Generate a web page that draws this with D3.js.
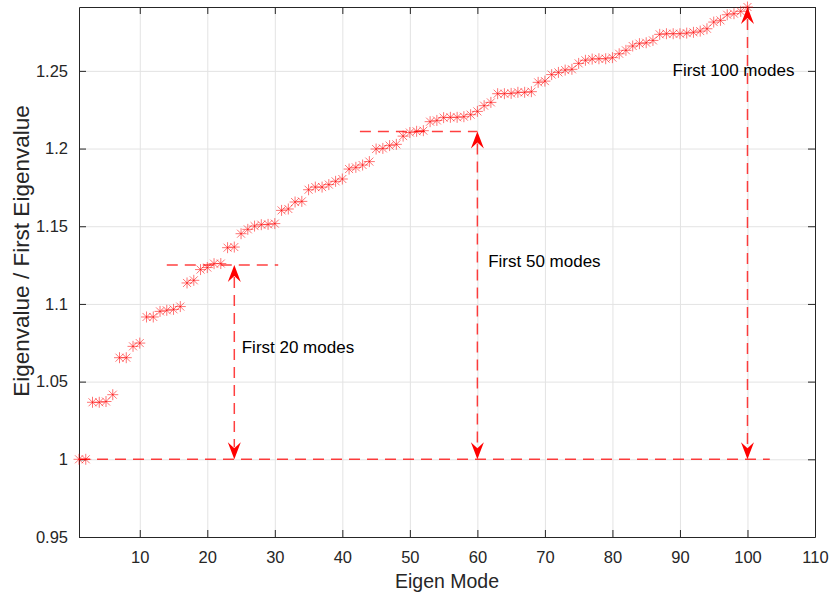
<!DOCTYPE html>
<html lang="en">
  <head>
    <meta charset="utf-8" />
    <title>Eigenvalue ratio</title>
    <script type="text/javascript" src="https://cdn.jsdelivr.net/npm/d3@7"></script>
    <style type="text/css">
      body {
        margin: 0;
        background: #ffffff;
      }
      text {
        font-family: "Liberation Sans", Arial, sans-serif;
      }
    </style>
  </head>
  <body>
    <script type="text/javascript">
      //Width and height
      var w = 832;
      var h = 599;
      var margin = { top: 7, right: 17, bottom: 62, left: 79 };

      // eigen mode numbers 1..100
      var modes = [
        1, 2, 3, 4, 5, 6, 7, 8, 9, 10, 11, 12, 13, 14, 15, 16, 17, 18, 19, 20,
        21, 22, 23, 24, 25, 26, 27, 28, 29, 30, 31, 32, 33, 34, 35, 36, 37, 38,
        39, 40, 41, 42, 43, 44, 45, 46, 47, 48, 49, 50, 51, 52, 53, 54, 55, 56,
        57, 58, 59, 60, 61, 62, 63, 64, 65, 66, 67, 68, 69, 70, 71, 72, 73, 74,
        75, 76, 77, 78, 79, 80, 81, 82, 83, 84, 85, 86, 87, 88, 89, 90, 91, 92,
        93, 94, 95, 96, 97, 98, 99, 100,
      ];

      // eigenvalue / first eigenvalue
      var ratios = [
        1.0, 1.0, 1.0367, 1.0367, 1.0372, 1.0416, 1.0654, 1.0654, 1.0727,
        1.0748, 1.0916, 1.0916, 1.0952, 1.0959, 1.0965, 1.0983, 1.1135,
        1.1152, 1.1221, 1.1234, 1.1259, 1.126, 1.1362, 1.1366, 1.1452, 1.148,
        1.1501, 1.151, 1.1512, 1.1517, 1.1602, 1.1611, 1.1656, 1.166, 1.1735,
        1.1752, 1.1752, 1.1768, 1.1789, 1.1804, 1.1868, 1.1879, 1.1894,
        1.1916, 1.1997, 1.2001, 1.2019, 1.2027, 1.208, 1.2103, 1.2111, 1.2115,
        1.2173, 1.2181, 1.2199, 1.2201, 1.2201, 1.2205, 1.2218, 1.2239,
        1.2276, 1.2297, 1.2353, 1.2353, 1.2355, 1.2362, 1.2362, 1.2366,
        1.2426, 1.2434, 1.2476, 1.249, 1.2505, 1.251, 1.2548, 1.2568, 1.2576,
        1.2578, 1.2578, 1.2585, 1.261, 1.2632, 1.266, 1.2675, 1.2681, 1.2696,
        1.2735, 1.2739, 1.2739, 1.2739, 1.2743, 1.2748, 1.2756, 1.2771,
        1.2814, 1.2825, 1.2861, 1.2868, 1.2883, 1.2911,
      ];

      var xTicks = [10, 20, 30, 40, 50, 60, 70, 80, 90, 100, 110];
      var yTicks = [0.95, 1, 1.05, 1.1, 1.15, 1.2, 1.25];

      // annotations: vertical double arrows and the dashed reference lines
      var arrowModes = [24, 60, 100];
      var arrowTops = [1.125, 1.211, 1.2911];
      var arrowLabels = ["First 20 modes", "First 50 modes", "First 100 modes"];
      var labelX = [25.1, 61.6, 88.9];
      var labelY = [1.0685, 1.1236, 1.2465];
      var levelLines = [
        { x1: 1, x2: 103.3, y: 1 },
        { x1: 14, x2: 30.5, y: 1.125 },
        { x1: 42.6, x2: 60, y: 1.211 },
      ];

      var xScale = d3
        .scaleLinear()
        .domain([1, 110])
        .range([margin.left, w - margin.right]);

      var yScale = d3
        .scaleLinear()
        .domain([0.95, d3.max(ratios)])
        .range([h - margin.bottom, margin.top]);

      //Create SVG element
      var svg = d3
        .select("body")
        .append("svg")
        .attr("width", w)
        .attr("height", h);

      var axisColor = "#262626";
      var gridColor = "#e3e3e3";
      var red = "#ff0000";

      //Grid
      svg
        .append("g")
        .attr("transform", "translate(0," + (h - margin.bottom) + ")")
        .call(
          d3
            .axisBottom(xScale)
            .tickValues(xTicks)
            .tickSize(-(h - margin.top - margin.bottom))
            .tickFormat("")
        )
        .call((g) => g.select(".domain").remove())
        .call((g) => g.selectAll("line").attr("stroke", gridColor));

      svg
        .append("g")
        .attr("transform", "translate(" + margin.left + ",0)")
        .call(
          d3
            .axisLeft(yScale)
            .tickValues(yTicks)
            .tickSize(-(w - margin.left - margin.right))
            .tickFormat("")
        )
        .call((g) => g.select(".domain").remove())
        .call((g) => g.selectAll("line").attr("stroke", gridColor));

      //Axes with inward ticks on all four sides
      var tickLen = 7;
      var fmt = function (d) {
        return d3.format("~g")(d);
      };

      var xAxisB = svg
        .append("g")
        .attr("transform", "translate(0," + (h - margin.bottom) + ")")
        .call(
          d3
            .axisBottom(xScale)
            .tickValues(xTicks)
            .tickSizeInner(-tickLen)
            .tickSizeOuter(0)
            .tickPadding(14)
            .tickFormat(fmt)
        );

      var xAxisT = svg
        .append("g")
        .attr("transform", "translate(0," + margin.top + ")")
        .call(
          d3
            .axisTop(xScale)
            .tickValues(xTicks)
            .tickSizeInner(-tickLen)
            .tickSizeOuter(0)
            .tickFormat("")
        );

      var yAxisL = svg
        .append("g")
        .attr("transform", "translate(" + margin.left + ",0)")
        .call(
          d3
            .axisLeft(yScale)
            .tickValues(yTicks)
            .tickSizeInner(-tickLen)
            .tickSizeOuter(0)
            .tickPadding(11)
            .tickFormat(fmt)
        );

      var yAxisR = svg
        .append("g")
        .attr("transform", "translate(" + (w - margin.right) + ",0)")
        .call(
          d3
            .axisRight(yScale)
            .tickValues(yTicks)
            .tickSizeInner(-tickLen)
            .tickSizeOuter(0)
            .tickFormat("")
        );

      [xAxisB, xAxisT, yAxisL, yAxisR].forEach(function (g) {
        g.select(".domain").attr("stroke", axisColor);
        g.selectAll(".tick line").attr("stroke", axisColor);
        g.selectAll(".tick text")
          .attr("fill", axisColor)
          .attr("font-size", "16.5px")
          .attr("font-family", "'Liberation Sans', Arial, sans-serif");
      });

      //Axis labels
      svg
        .append("text")
        .attr("x", (margin.left + w - margin.right) / 2)
        .attr("y", 588)
        .attr("text-anchor", "middle")
        .attr("font-size", "19.5px")
        .attr("fill", axisColor)
        .text("Eigen Mode");

      svg
        .append("text")
        .attr("transform", "translate(29,251) rotate(-90)")
        .attr("text-anchor", "middle")
        .attr("font-size", "22.5px")
        .attr("fill", axisColor)
        .text("Eigenvalue / First Eigenvalue");

      //Dashed level lines
      svg
        .selectAll("line.level")
        .data(levelLines)
        .enter()
        .append("line")
        .attr("class", "level")
        .attr("x1", (d) => xScale(d.x1))
        .attr("x2", (d) => xScale(d.x2))
        .attr("y1", (d) => yScale(d.y))
        .attr("y2", (d) => yScale(d.y))
        .attr("stroke", red)
        .attr("stroke-width", 1.5)
        .attr("stroke-opacity", 0.75)
        .attr("stroke-dasharray", "11,7");

      //Vertical double arrows
      svg
        .selectAll("line.arrow")
        .data(arrowModes)
        .enter()
        .append("line")
        .attr("class", "arrow")
        .attr("x1", (d) => xScale(d))
        .attr("x2", (d) => xScale(d))
        .attr("y1", (d, i) => yScale(arrowTops[i]) + 12)
        .attr("y2", yScale(1) - 12)
        .attr("stroke", red)
        .attr("stroke-width", 1.5)
        .attr("stroke-opacity", 0.75)
        .attr("stroke-dasharray", "11,7");

      var head = "M0,0L-6.5,17L0,11L6.5,17Z";

      svg
        .selectAll("path.headUp")
        .data(arrowModes)
        .enter()
        .append("path")
        .attr("class", "headUp")
        .attr("d", head)
        .attr(
          "transform",
          (d, i) => "translate(" + xScale(d) + "," + yScale(arrowTops[i]) + ")"
        )
        .attr("fill", red);

      svg
        .selectAll("path.headDown")
        .data(arrowModes)
        .enter()
        .append("path")
        .attr("class", "headDown")
        .attr("d", head)
        .attr(
          "transform",
          (d) => "translate(" + xScale(d) + "," + yScale(1) + ") rotate(180)"
        )
        .attr("fill", red);

      //Asterisk markers
      var star = svg
        .selectAll("g.star")
        .data(ratios)
        .enter()
        .append("g")
        .attr("class", "star")
        .attr(
          "transform",
          (d, i) => "translate(" + xScale(modes[i]) + "," + yScale(d) + ")"
        );

      var arms = [
        [-5.5, 0, 5.5, 0],
        [0, -5.5, 0, 5.5],
        [-4, -4, 4, 4],
        [-4, 4, 4, -4],
      ];
      arms.forEach(function (a) {
        star
          .append("line")
          .attr("x1", a[0])
          .attr("y1", a[1])
          .attr("x2", a[2])
          .attr("y2", a[3])
          .attr("stroke", red)
          .attr("stroke-opacity", 0.55)
          .attr("stroke-width", 1);
      });

      //Annotation texts
      svg
        .selectAll("text.note")
        .data(arrowLabels)
        .enter()
        .append("text")
        .attr("class", "note")
        .attr("x", (d, i) => xScale(labelX[i]))
        .attr("y", (d, i) => yScale(labelY[i]))
        .attr("font-size", "17px")
        .attr("fill", "#000000")
        .text((d) => d);
    </script>
  </body>
</html>
